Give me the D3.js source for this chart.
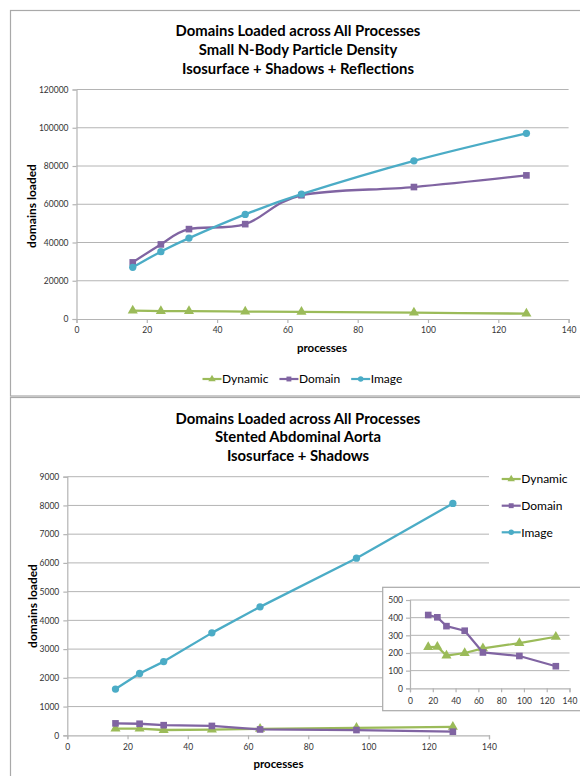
<!DOCTYPE html>
<html>
<head>
<meta charset="utf-8">
<script src="https://cdn.jsdelivr.net/npm/d3@7"></script>
<style>
  html, body { margin: 0; padding: 0; background: #fff; overflow: hidden; }
  text { font-family: Lato, "Open Sans", "DejaVu Sans", sans-serif; }
</style>
</head>
<body>
<svg id="page" width="580" height="776"></svg>
<script>
// ---------- data ----------
const processes = [16, 24, 32, 48, 64, 96, 128];
const seriesNames = ["Dynamic", "Domain", "Image"];

// Small N-Body Particle Density
const nbodyDynamic = [4350, 4150, 4150, 3900, 3700, 3300, 2800];
const nbodyDomain  = [29600, 39000, 47000, 49600, 64700, 69000, 75100];
const nbodyImage   = [27000, 35200, 42300, 54700, 65300, 82700, 97100];

// Stented Abdominal Aorta
const aortaDynamic = [234, 235, 185, 200, 226, 256, 292];
const aortaDomain  = [415, 402, 352, 326, 203, 183, 125];
const aortaImage   = [1610, 2150, 2565, 3565, 4470, 6165, 8070];

const xTicks      = [0, 20, 40, 60, 80, 100, 120, 140];
const nbodyYTicks = [0, 20000, 40000, 60000, 80000, 100000, 120000];
const aortaYTicks = [0, 1000, 2000, 3000, 4000, 5000, 6000, 7000, 8000, 9000];
const insetYTicks = [0, 100, 200, 300, 400, 500];

const nbodyTitle = ["Domains Loaded across All Processes", "Small N-Body Particle Density", "Isosurface + Shadows + Reflections"];
const aortaTitle = ["Domains Loaded across All Processes", "Stented Abdominal Aorta", "Isosurface + Shadows"];
const xTitle = "processes";
const yTitle = "domains loaded";

// ---------- styling ----------
const colors  = { Dynamic: "#9bbb59", Domain: "#8064a2", Image: "#4bacc6" };
const symbols = { Dynamic: d3.symbolTriangle, Domain: d3.symbolSquare, Image: d3.symbolCircle };
const symbolSize = { Dynamic: 44, Domain: 44, Image: 42 };
const gridColor = "#b4b4b4";
const tickColor = "#333";

const svg = d3.select("#page");

function panel(y, h) {
  svg.append("rect")
    .attr("x", 10.5).attr("y", y).attr("width", 620).attr("height", h)
    .attr("fill", "#fff").attr("stroke", "#a9a9a9").attr("stroke-width", 1.2);
}

function title(lines, ys, cx, targetWidth) {
  const g = svg.append("g");
  const texts = g.selectAll("text").data(lines).join("text")
    .attr("x", 0).attr("y", (d, i) => ys[i]).attr("dy", "0.35em")
    .attr("text-anchor", "middle")
    .style("font-size", "14.5px").style("font-weight", "bold").attr("fill", "#000")
    .text(d => d);
  const w = texts.node().getComputedTextLength();
  g.attr("transform", `translate(${cx},0) scale(${targetWidth / w},1)`);
}

function plot(cfg) {
  const { x, y, yTicks, series, curve, fontSize, labelGap, xLabelY, markerScale, lineWidth } = cfg;
  const g = svg.append("g");
  const [x0, x1] = x.range();
  const [yb] = y.range();

  // horizontal gridlines
  g.append("g").selectAll("line").data(yTicks.filter(t => t !== 0)).join("line")
    .attr("x1", x0).attr("x2", x1)
    .attr("y1", d => y(d)).attr("y2", d => y(d))
    .attr("stroke", gridColor).attr("stroke-width", 1);

  // y axis
  const ya = g.append("g").attr("transform", `translate(${x0},0)`)
    .call(d3.axisLeft(y).tickValues(yTicks).tickSizeOuter(0).tickSize(4).tickPadding(labelGap).tickFormat(d3.format("d")));
  // x axis
  const xa = g.append("g").attr("transform", `translate(0,${yb})`)
    .call(d3.axisBottom(x).tickValues(xTicks).tickSizeOuter(0).tickSize(4).tickPadding(0).tickFormat(d3.format("d")));
  xa.selectAll("text").attr("y", xLabelY - yb).attr("dy", "0.35em");
  [ya, xa].forEach(a => {
    a.select(".domain").attr("stroke", gridColor).attr("stroke-width", 1.2);
    a.selectAll(".tick line").attr("stroke", gridColor).attr("stroke-width", 1.2);
    a.selectAll("text").attr("fill", tickColor).style("font-size", fontSize + "px")
      .style("font-family", "Lato, 'Open Sans', sans-serif");
  });

  // series lines and markers
  const line = d3.line().x(d => x(d[0])).y(d => y(d[1])).curve(curve);
  series.forEach(s => {
    const pts = processes.map((p, i) => [p, s.values[i]]);
    g.append("path").datum(pts).attr("d", line)
      .attr("fill", "none").attr("stroke", colors[s.name])
      .attr("stroke-width", lineWidth).attr("stroke-linejoin", "round");
    g.append("g").selectAll("path").data(pts).join("path")
      .attr("transform", d => `translate(${x(d[0])},${y(d[1])})`)
      .attr("d", d3.symbol().type(symbols[s.name]).size(symbolSize[s.name] * markerScale))
      .attr("fill", colors[s.name]);
  });
}

function legendItem(x, y, name) {
  const g = svg.append("g");
  g.append("line").attr("x1", x).attr("x2", x + 19).attr("y1", y).attr("y2", y)
    .attr("stroke", colors[name]).attr("stroke-width", 2.2);
  g.append("path").attr("transform", `translate(${x + 9.5},${y})`)
    .attr("d", d3.symbol().type(symbols[name]).size(24)).attr("fill", colors[name]);
  const t = g.append("text").attr("x", x + 19.5).attr("y", y).attr("dy", "0.35em")
    .style("font-size", "12px").attr("fill", "#000").text(name);
  return x + 19.5 + t.node().getComputedTextLength();
}

// ================= panel 1: N-Body =================
panel(10.5, 385.5);
title(nbodyTitle, [31, 50, 69], 298, 245);

const x1 = d3.scaleLinear().domain([0, 140]).range([76.5, 568.6]);
const y1 = d3.scaleLinear().domain([0, 120000]).range([319, 89.5]);
plot({
  x: x1, y: y1, yTicks: nbodyYTicks,
  series: [
    { name: "Dynamic", values: nbodyDynamic },
    { name: "Domain",  values: nbodyDomain },
    { name: "Image",   values: nbodyImage }
  ],
  curve: d3.curveCardinal.tension(0), fontSize: 8.5, labelGap: 4, xLabelY: 330,
  markerScale: 1, lineWidth: 2.3
});
svg.append("text").attr("transform", "translate(31.5,206) rotate(-90)")
  .attr("text-anchor", "middle").attr("dy", "0.35em")
  .style("font-size", "12px").style("font-weight", "bold").text(yTitle);
svg.append("text").attr("x", 322).attr("y", 348).attr("dy", "0.35em")
  .attr("text-anchor", "middle").style("font-size", "11.5px").style("font-weight", "bold").text(xTitle);

// horizontal legend
let lx = 202.5;
seriesNames.forEach(n => { lx = legendItem(lx, 379, n) + 11; });

// ================= panel 2: Aorta =================
panel(397.5, 400);
title(aortaTitle, [418.5, 437, 456], 298, 245);

const x2 = d3.scaleLinear().domain([0, 140]).range([67.3, 489]);
const y2 = d3.scaleLinear().domain([0, 9000]).range([735.3, 476.7]);
plot({
  x: x2, y: y2, yTicks: aortaYTicks,
  series: [
    { name: "Dynamic", values: aortaDynamic },
    { name: "Domain",  values: aortaDomain },
    { name: "Image",   values: aortaImage }
  ],
  curve: d3.curveLinear, fontSize: 8.5, labelGap: 4, xLabelY: 747.5,
  markerScale: 1, lineWidth: 2.3
});
svg.append("text").attr("transform", "translate(33,606) rotate(-90)")
  .attr("text-anchor", "middle").attr("dy", "0.35em")
  .style("font-size", "12px").style("font-weight", "bold").text(yTitle);
svg.append("text").attr("x", 278.5).attr("y", 764).attr("dy", "0.35em")
  .attr("text-anchor", "middle").style("font-size", "11.5px").style("font-weight", "bold").text(xTitle);

// vertical legend
[479, 505.7, 532.3].forEach((ly, i) => legendItem(501.7, ly, seriesNames[i]));

// inset: the two low-valued series on their own scale
svg.append("rect").attr("x", 382.7).attr("y", 587.3).attr("width", 300).attr("height", 123.4)
  .attr("fill", "#fff").attr("stroke", "#a9a9a9").attr("stroke-width", 1.2);
const x3 = d3.scaleLinear().domain([0, 140]).range([410, 569.5]);
const y3 = d3.scaleLinear().domain([0, 500]).range([688.3, 600]);
plot({
  x: x3, y: y3, yTicks: insetYTicks,
  series: [
    { name: "Dynamic", values: aortaDynamic },
    { name: "Domain",  values: aortaDomain }
  ],
  curve: d3.curveLinear, fontSize: 8.5, labelGap: 3, xLabelY: 700.7,
  markerScale: 1, lineWidth: 2.2
});
</script>
</body>
</html>
